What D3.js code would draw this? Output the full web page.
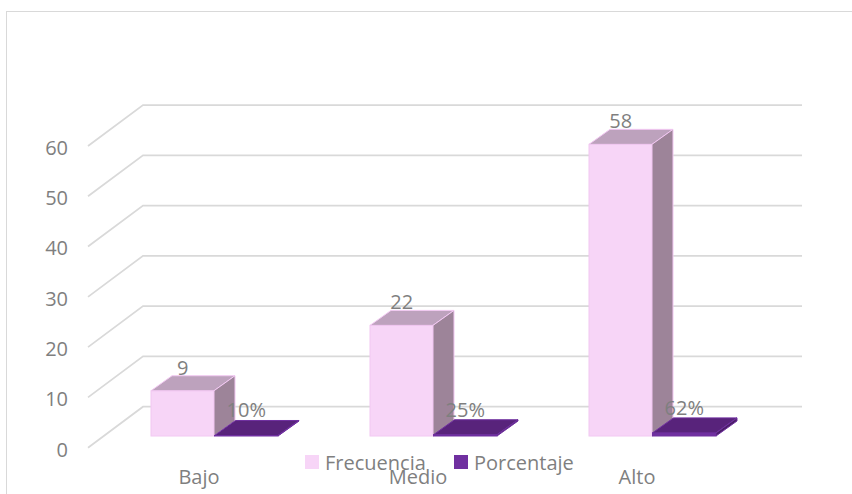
<!DOCTYPE html>
<html>
<head>
<meta charset="utf-8">
<script src="https://cdn.jsdelivr.net/npm/d3@7"></script>
<style>
  body { margin: 0; background: #fff; }
  text { font-family: "Open Sans", sans-serif; fill: #7f7f7f; }
</style>
</head>
<body>
<div id="chart"></div>
<script>
const categories = ["Bajo", "Medio", "Alto"];
const frecuencia = [9, 22, 58];
const porcentaje = [0.10, 0.25, 0.62];
const porcentajeLabels = ["10%", "25%", "62%"];
const yTicks = [0, 10, 20, 30, 40, 50, 60];
const seriesNames = ["Frecuencia", "Porcentaje"];

const W = 852, H = 494;
const svg = d3.select("#chart").append("svg")
    .attr("width", W).attr("height", H);

// marco del gráfico
svg.append("rect")
   .attr("x", 6.5).attr("y", 11.5)
   .attr("width", 900).attr("height", 600)
   .attr("fill", "none").attr("stroke", "#d9d9d9").attr("stroke-width", 1);

// pared del fondo
const wallLeft = 143, wallRight = 802;
const y = d3.scaleLinear().domain([0, 60]).range([406.7, 105]);
const sideDx = -55, sideDy = 41;       // pared lateral / borde frontal
const barDy = 29.3;                    // base de las columnas respecto a la pared
const depthDx = 21, depthDy = -15;     // profundidad de las columnas

const x = d3.scaleBand().domain(categories).range([151, 151 + 219 * 3]).padding(0);
const barW = 63.5;

// líneas de cuadrícula
const grid = svg.append("g");
yTicks.forEach(t => {
    grid.append("path")
        .attr("d", `M${wallLeft + sideDx},${y(t) + sideDy}L${wallLeft},${y(t)}L${wallRight},${y(t)}`)
        .attr("fill", "none").attr("stroke", "#d9d9d9").attr("stroke-width", 1.75);
});

// eje Y
const yFront = d3.scaleLinear().domain(y.domain()).range(y.range().map(v => v + sideDy + 2));
svg.append("g")
   .attr("transform", "translate(68,0)")
   .call(d3.axisLeft(yFront).tickValues(yTicks).tickSize(0).tickPadding(0))
   .call(g => g.select(".domain").remove())
   .selectAll("text")
   .style("font-size", "20px")
   .style("font-family", "'Open Sans', sans-serif")
   .attr("fill", "#7f7f7f");

function box(g, x0, w, v, cols) {
    const yb = y(0) + barDy, yt = y(v) + barDy;
    g.append("rect")
     .attr("x", x0).attr("y", yt).attr("width", w).attr("height", yb - yt)
     .attr("fill", cols.front).attr("stroke", cols.stroke).attr("stroke-width", 1);
    g.append("path")
     .attr("d", `M${x0},${yt}L${x0 + depthDx},${yt + depthDy}L${x0 + w + depthDx},${yt + depthDy}L${x0 + w},${yt}Z`)
     .attr("fill", cols.top).attr("stroke", cols.stroke).attr("stroke-width", 1);
    g.append("path")
     .attr("d", `M${x0 + w},${yt}L${x0 + w + depthDx},${yt + depthDy}L${x0 + w + depthDx},${yb + depthDy}L${x0 + w},${yb}Z`)
     .attr("fill", cols.side).attr("stroke", cols.stroke).attr("stroke-width", 1);
    return yt + depthDy;
}

const pink = { front: "#f7d5f7", top: "#bda2bd", side: "#9d8499", stroke: "#f2c8f2" };
const purple = { front: "#7030a0", top: "#58237b", side: "#4a1d68", stroke: "#7030a0" };

const bars = svg.append("g");
categories.forEach((c, i) => {
    const x0 = x(c);
    const topF = box(bars, x0, barW - 0.5, frecuencia[i], pink);
    const topP = box(bars, x0 + barW, barW, porcentaje[i], purple);
    bars.append("text")
        .attr("x", x0 + barW / 2).attr("y", topF - 1)
        .attr("text-anchor", "middle").style("font-size", "20px")
        .text(frecuencia[i]);
    bars.append("text")
        .attr("x", x0 + barW * 1.5).attr("y", topP - 3)
        .attr("text-anchor", "middle").style("font-size", "20px")
        .text(porcentajeLabels[i]);
});

// etiquetas de categoría
svg.append("g").selectAll("text")
   .data(categories)
   .enter().append("text")
   .attr("x", d => x(d) + 48)
   .attr("y", 484)
   .attr("text-anchor", "middle")
   .style("font-size", "20px")
   .text(d => d);

// leyenda
const legend = svg.append("g");
const legendX = [305, 454];
const legendCols = ["#f7d5f7", "#7030a0"];
seriesNames.forEach((s, i) => {
    legend.append("rect")
          .attr("x", legendX[i]).attr("y", 455)
          .attr("width", 14).attr("height", 14)
          .attr("fill", legendCols[i]);
    legend.append("text")
          .attr("x", legendX[i] + 20).attr("y", 470)
          .style("font-size", "20px")
          .text(s);
});
</script>
</body>
</html>
